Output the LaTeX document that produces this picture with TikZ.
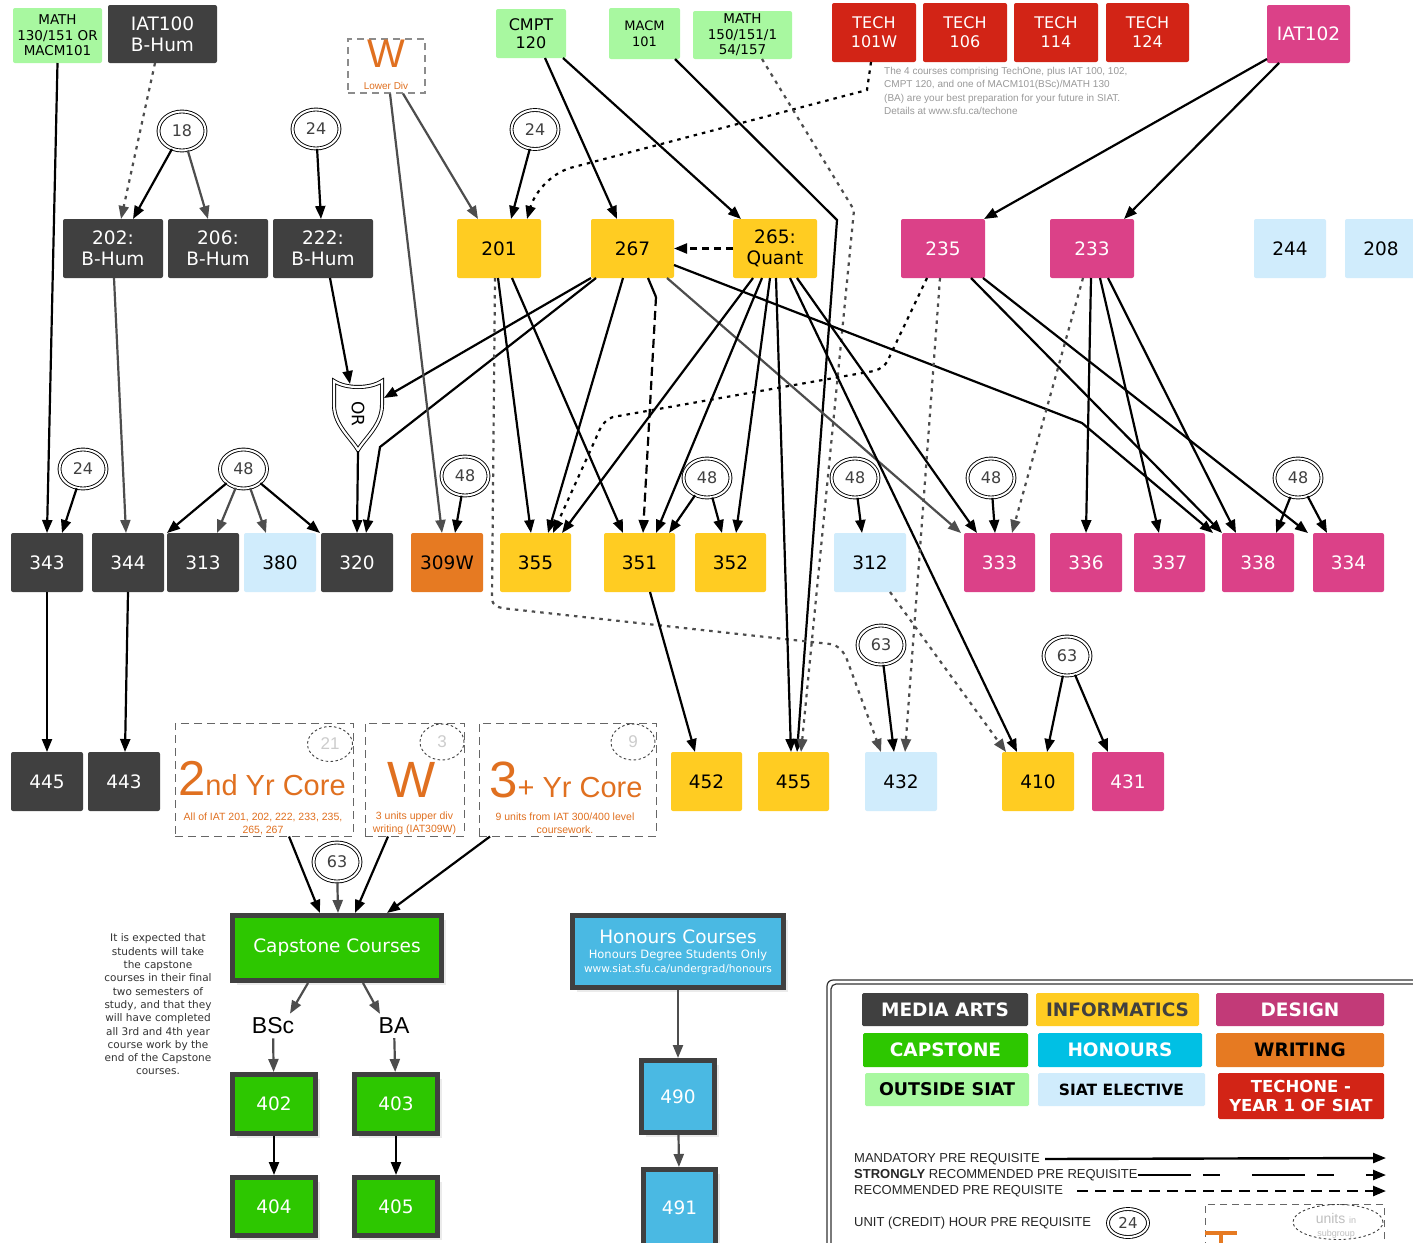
\documentclass[tikz,border=0pt]{standalone}
\usepackage{fontspec}
\setmainfont{DejaVu Sans}
\newfontfamily\arialf{Liberation Sans}
\usetikzlibrary{arrows.meta,shapes.geometric,shadows}
\definecolor{cma}{HTML}{404040}
\definecolor{cinf}{HTML}{FFCC22}
\definecolor{cdes}{HTML}{DB4188}
\definecolor{cdesl}{HTML}{C23A78}
\definecolor{clb}{HTML}{D0ECFC}
\definecolor{cor}{HTML}{E67A22}
\definecolor{corg}{HTML}{E07020}
\definecolor{cred}{HTML}{D22416}
\definecolor{cgrn}{HTML}{A8F8A0}
\definecolor{ccap}{HTML}{2DC700}
\definecolor{chon}{HTML}{4AB9E3}
\definecolor{chonl}{HTML}{00C0E4}
\definecolor{cln}{HTML}{4D4D4D}
\newcommand\fL{\fontsize{18.5}{21}\selectfont}
\tikzset{
 bx/.style={rectangle, rounded corners=2pt, inner sep=0pt, outer sep=0pt, align=center, font=\fL},
 ma/.style={bx, fill=cma, text=white},
 inf/.style={bx, fill=cinf, text=black},
 des/.style={bx, fill=cdes, text=white},
 lb/.style={bx, fill=clb, text=black},
 wri/.style={bx, fill=cor, text=black},
 te/.style={bx, fill=cred, text=white},
 og/.style={bx, fill=cgrn, text=black},
 sz/.style 2 args={minimum width=#1pt, minimum height=#2pt},
 ov/.style={ellipse, draw=black, line width=0.9pt, double=white, double distance=2pt, fill=white, minimum width=47pt, minimum height=39pt, inner sep=0pt, font=\fontsize{16}{16}\selectfont, text=cma},
 ar/.style={-{Triangle[length=13pt,width=10pt]}, line width=2.2pt, draw=black},
 gar/.style={ar, draw=cln},
 dotg/.style={ar, draw=cln, dash pattern=on 3.5pt off 5pt},
 dotb/.style={ar, draw=black, dash pattern=on 3.5pt off 5pt},
 sdash/.style={ar, dash pattern=on 9pt off 5pt},
 dsh/.style={ar, dash pattern=on 7pt off 5pt},
 thk/.style={rectangle, draw=cma, line width=5pt, inner sep=0pt, outer sep=2.5pt, text=white, align=center, drop shadow={shadow xshift=4pt, shadow yshift=-4pt, fill=black!15}},
 dbox/.style={rectangle, draw=black!60, dash pattern=on 8pt off 5pt, line width=1pt, inner sep=0pt},
 dell/.style={ellipse, draw=black!75, dash pattern=on 2.5pt off 2.5pt, line width=0.9pt, inner sep=0pt, text=black!20, font=\arialf\fontsize{17}{17}\selectfont},
 leg/.style={bx, rounded corners=1.5pt, font=\bfseries\fontsize{18.5}{20}\selectfont},
 ltx/.style={anchor=west, inner sep=0pt, text=black!85, font=\arialf\fontsize{13}{13}\selectfont},
 otx/.style={align=center, inner sep=0pt, text=corg, font=\arialf\fontsize{10.5}{13}\selectfont},
}
\begin{document}
\begin{tikzpicture}[x=1pt,y=-1pt]
\useasboundingbox (0,0) rectangle (1413,1242);
\clip (0,0) rectangle (1413,1242);
\fill[white] (0,0) rectangle (1413,1242);

% ---------- top row ----------
\node[og, sz={89}{55}, font=\fontsize{13.5}{15.5}\selectfont] (nMATH) at (57.5,35.5) {MATH\\130/151 OR\\MACM101};
\node[ma, sz={109}{58}] (nIAT100) at (162.5,34) {IAT100\\B-Hum};
\node[rectangle, draw=black!45, dash pattern=on 7pt off 5pt, line width=1.1pt, sz={77}{54}] (nW) at (386.5,66) {};
\node[inner sep=0pt, text=corg, font=\arialf\fontsize{40}{40}\selectfont] (tW) at (386,54) {W};
\node[inner sep=0pt, text=corg, font=\arialf\fontsize{10}{10}\selectfont] (tLD) at (386,86) {Lower Div};
\node[og, sz={70}{49}, font=\fontsize{16}{18}\selectfont] (nCMPT) at (531,33.5) {CMPT\\120};
\node[og, sz={71}{51}, font=\fontsize{13}{16}\selectfont] (nMACM) at (644.5,33.5) {MACM\\101};
\node[og, sz={99}{48}, font=\fontsize{13.5}{15.5}\selectfont] (nMATH2) at (742.5,35) {MATH\\150/151/1\\54/157};
\node[te, sz={84}{59}, font=\fontsize{16}{19}\selectfont] (nT101) at (874,32.5) {TECH\\101W};
\node[te, sz={84}{59}, font=\fontsize{16}{19}\selectfont] (nT106) at (965,32.5) {TECH\\106};
\node[te, sz={84}{59}, font=\fontsize{16}{19}\selectfont] (nT114) at (1056,32.5) {TECH\\114};
\node[te, sz={83}{59}, font=\fontsize{16}{19}\selectfont] (nT124) at (1147.5,32.5) {TECH\\124};
\node[des, sz={83}{58}] (nIAT102) at (1308.5,34) {IAT102};
\node[anchor=north west, align=left, inner sep=0pt, text=black!40, font=\arialf\fontsize{10}{13.5}\selectfont] (note) at (884,67) {The 4 courses comprising TechOne, plus IAT 100, 102,\\CMPT 120, and one of MACM101(BSc)/MATH 130\\(BA) are your best preparation for your future in SIAT.\\Details at www.sfu.ca/techone};

% ---------- row 2 ----------
\node[ma, sz={100}{59}] (n202) at (113,248.5) {202:\\B-Hum};
\node[ma, sz={100}{59}] (n206) at (218,248.5) {206:\\B-Hum};
\node[ma, sz={100}{59}] (n222) at (323,248.5) {222:\\B-Hum};
\node[inf, sz={84}{59}] (n201) at (499,248.5) {201};
\node[inf, sz={83}{59}] (n267) at (632.5,248.5) {267};
\node[inf, sz={84}{59}] (n265) at (775,248.5) {265:\\Quant};
\node[des, sz={84}{59}] (n235) at (943,248.5) {235};
\node[des, sz={84}{59}] (n233) at (1092,248.5) {233};
\node[lb, sz={72}{59}] (n244) at (1290,248.5) {244};
\node[lb, sz={72}{59}] (n208) at (1381,248.5) {208};

% ---------- OR shield ----------
\draw[line width=0.9pt, double=white, double distance=2.2pt, fill=white] (334,381) .. controls (346,389) and (370,389) .. (382,381) -- (382,405) .. controls (382,425) and (365,438) .. (358,450) .. controls (351,438) and (334,425) .. (334,405) -- cycle;
\node[rotate=-90, inner sep=0pt, font=\fontsize{17}{17}\selectfont] (orlab) at (358,414) {OR};
\coordinate (ortop) at (350,384);
\coordinate (orright) at (384,398);
\coordinate (orbot) at (358,451);

% ---------- row 3 ----------
\node[ma, sz={72}{59}] (n343) at (47,562.5) {343};
\node[ma, sz={72}{59}] (n344) at (128,562.5) {344};
\node[ma, sz={72}{59}] (n313) at (203,562.5) {313};
\node[lb, sz={72}{59}] (n380) at (280,562.5) {380};
\node[ma, sz={72}{59}] (n320) at (357,562.5) {320};
\node[wri, sz={72}{59}] (n309) at (447,562.5) {309W};
\node[inf, sz={71}{59}] (n355) at (535.5,562.5) {355};
\node[inf, sz={71}{59}] (n351) at (639.5,562.5) {351};
\node[inf, sz={71}{59}] (n352) at (730.5,562.5) {352};
\node[lb, sz={72}{59}] (n312) at (870,562.5) {312};
\node[des, sz={71}{59}] (n333) at (999.5,562.5) {333};
\node[des, sz={72}{59}] (n336) at (1086,562.5) {336};
\node[des, sz={71}{59}] (n337) at (1169.5,562.5) {337};
\node[des, sz={72}{59}] (n338) at (1258,562.5) {338};
\node[des, sz={71}{59}] (n334) at (1348.5,562.5) {334};

% ---------- row 4 ----------
\node[ma, sz={72}{59}] (n445) at (47,781.5) {445};
\node[ma, sz={72}{59}] (n443) at (124,781.5) {443};
\node[inf, sz={71}{59}] (n452) at (706.5,781.5) {452};
\node[inf, sz={71}{59}] (n455) at (793.5,781.5) {455};
\node[lb, sz={72}{59}] (n432) at (901,781.5) {432};
\node[inf, sz={72}{59}] (n410) at (1038,781.5) {410};
\node[des, sz={72}{59}] (n431) at (1128,781.5) {431};

% ---------- ovals ----------
\node[ov] (o18) at (182,131) {18};
\node[ov] (o24a) at (316,129) {24};
\node[ov] (o24b) at (535,129.5) {24};
\node[ov] (o24c) at (83,469) {24};
\node[ov] (o48a) at (243.5,469) {48};
\node[ov] (o48b) at (465,476) {48};
\node[ov] (o48c) at (707,478) {48};
\node[ov] (o48d) at (855,478) {48};
\node[ov] (o48e) at (991,478) {48};
\node[ov] (o48f) at (1298,478) {48};
\node[ov] (o63a) at (881,645) {63};
\node[ov] (o63b) at (1067,656) {63};
\node[ov] (o63c) at (337,862) {63};

% ---------- core boxes ----------
\node[dbox, sz={178}{113}] (d2) at (264,779.5) {};
\node[anchor=base west, inner sep=0pt, text=corg, font=\arialf] (t2) at (178,795) {\fontsize{49}{49}\selectfont 2\fontsize{29}{29}\selectfont nd Yr Core};
\node[otx] (t2s) at (263,823.5) {All of IAT 201, 202, 222, 233, 235,\\265, 267};
\node[dell, sz={45}{35}] (e21) at (330,744) {21};
\node[dbox, sz={99}{113}] (dW) at (414.5,779.5) {};
\node[anchor=base, inner sep=0pt, text=corg, font=\arialf\fontsize{51}{51}\selectfont] (tWW) at (412,797) {W};
\node[otx] (tWs) at (414.5,823.5) {3 units upper div\\writing (IAT309W)};
\node[dell, sz={44}{36}] (e3) at (442,742) {3};
\node[dbox, sz={177}{113}] (d3) at (567.5,779.5) {};
\node[anchor=base west, inner sep=0pt, text=corg, font=\arialf] (t3) at (489,797) {\fontsize{51}{51}\selectfont 3\fontsize{29}{29}\selectfont + Yr Core};
\node[otx] (t3s) at (565,823.5) {9 units from IAT 300/400 level\\coursework.};
\node[dell, sz={44}{36}] (e9) at (633,742) {9};

% ---------- capstone / honours ----------
\node[thk, fill=ccap, sz={209}{65}, font=\fontsize{18.5}{20}\selectfont] (ncap) at (337,948) {Capstone Courses};
\node[thk, fill=chon, sz={211}{72}] (nHon) at (678,951.5) {};
\node[inner sep=0pt, text=white, font=\fontsize{18.5}{20}\selectfont] (th1) at (678,937) {Honours Courses};
\node[inner sep=0pt, text=white, font=\fontsize{11.5}{13}\selectfont] (th2) at (678,955) {Honours Degree Students Only};
\node[inner sep=0pt, text=white, font=\fontsize{10.6}{12}\selectfont] (th3) at (678,969.5) {www.siat.sfu.ca/undergrad/honours};
\node[align=center, inner sep=0pt, text=black!80, font=\fontsize{10.5}{13.3}\selectfont] (ltxt) at (158,1004.5) {It is expected that\\students will take\\the capstone\\courses in their final\\two semesters of\\study, and that they\\will have completed\\all 3rd and 4th year\\course work by the\\end of the Capstone\\courses.};
\node[inner sep=4pt, font=\arialf\fontsize{23}{23}\selectfont] (nBSc) at (273,1026) {BSc};
\node[inner sep=4pt, font=\arialf\fontsize{23}{23}\selectfont] (nBA) at (394,1026) {BA};
\node[thk, fill=ccap, sz={83}{59}, font=\fL] (n402) at (274,1104) {402};
\node[thk, fill=ccap, sz={83}{59}, font=\fL] (n403) at (396,1104) {403};
\node[thk, fill=ccap, sz={83}{58}, font=\fL] (n404) at (274,1206.5) {404};
\node[thk, fill=ccap, sz={83}{58}, font=\fL] (n405) at (396,1206.5) {405};
\node[thk, fill=chon, sz={73}{72}, font=\fL] (n490) at (678,1096.5) {490};
\node[thk, fill=chon, sz={72}{77}, font=\fL] (n491) at (679.5,1208) {491};

% ---------- edges ----------
\draw[ar] (nMATH.south) -- (47,0 |- n343.north);
\draw[dotg] (155,0 |- nIAT100.south) -- (121,0 |- n202.north);
\draw[ar] (o18) -- (133,0 |- n202.north);
\draw[gar] (o18) -- (208,0 |- n206.north);
\draw[ar] (o24a) -- (321,0 |- n222.north);
\draw[gar] (114,0 |- n202.south) -- (126,0 |- n344.north);
\draw[ar] (330,0 |- n222.south) -- (ortop);
\draw[ar] (n267.south west) -- (orright);
\draw[ar] (596,0 |- n267.south) -- (380,447) -- (366,0 |- n320.north);
\draw[ar] (orbot) -- (357,0 |- n320.north);
\draw[gar] (390,0 |- nW.south) -- (442,0 |- n309.north);
\draw[gar] (403,0 |- nW.south) -- (478,0 |- n201.north);
\draw[ar] (o24b) -- (511,0 |- n201.north);
\draw[dotb] (871,0 |- nT101.south) -- (867,90) -- (570,168) .. controls (548,175) and (534,195) .. (527,0 |- n201.north);
\draw[ar] (545,0 |- nCMPT.south) -- (617,0 |- n267.north);
\draw[ar] (563,0 |- nCMPT.south) -- (741,0 |- n265.north);
\draw[ar] (675,0 |- nMACM.south) -- (837,220) -- (797,0 |- n455.north);
\draw[dotg] (762,0 |- nMATH2.south) -- (854,210) -- (801,0 |- n455.north);
\draw[dsh] (n265.west) -- (n267.east);
\draw[ar] (nIAT102.west |- 0,59) -- (984,0 |- n235.north);
\draw[ar] (1279,0 |- nIAT102.south) -- (1124,0 |- n233.north);
% from 201
\draw[ar] (498,0 |- n201.south) -- (531,0 |- n355.north);
\draw[ar] (512,0 |- n201.south) -- (623,0 |- n351.north);
\draw[dotg] (495,0 |- n201.south) -- (492,598) .. controls (492,606) and (498,608) .. (510,609) -- (830,644) .. controls (838,645) and (842,650) .. (846,657) -- (881,0 |- n432.north);
% from 267
\draw[ar] (623,0 |- n267.south) -- (548,0 |- n355.north);
\draw[line width=2.2pt] (648,0 |- n267.south) -- (656,297);
\draw[sdash] (656,297) -- (643,0 |- n351.north);
\draw[gar] (667,0 |- n267.south) -- (961,0 |- n333.north);
\draw[ar] (n267.east |- 0,265) -- (1082,423) -- (1213,0 |- n338.north);
% from 265
\draw[ar] (753,0 |- n265.south) -- (562,0 |- n355.north);
\draw[ar] (762,0 |- n265.south) -- (656,0 |- n351.north);
\draw[ar] (770,0 |- n265.south) -- (736,0 |- n352.north);
\draw[ar] (776,0 |- n265.south) -- (791,0 |- n455.north);
\draw[ar] (790,0 |- n265.south) -- (1017,0 |- n410.north);
\draw[ar] (797,0 |- n265.south) -- (977,0 |- n333.north);
% from 235
\draw[dotb] (927,0 |- n235.south) -- (887,362) .. controls (882,369) and (876,371) .. (868,372) -- (613,417) .. controls (604,420) and (600,428) .. (596,438) -- (553,0 |- n355.north);
\draw[dotg] (940,0 |- n235.south) -- (905,0 |- n432.north);
\draw[ar] (971,0 |- n235.south) -- (1222,0 |- n338.north);
\draw[ar] (983,0 |- n235.south) -- (1308,0 |- n334.north);
% from 233
\draw[dotg] (1083,0 |- n233.south) -- (1012,0 |- n333.north);
\draw[ar] (1091,0 |- n233.south) -- (1086,0 |- n336.north);
\draw[ar] (1100,0 |- n233.south) -- (1159,0 |- n337.north);
\draw[ar] (1108,0 |- n233.south) -- (1236,0 |- n338.north);
% ovals
\draw[ar] (o24c) -- (62,0 |- n343.north);
\draw[ar] (o48a) -- (167,0 |- n313.north);
\draw[gar] (o48a) -- (217,0 |- n313.north);
\draw[gar] (o48a) -- (266,0 |- n380.north);
\draw[ar] (o48a) -- (320,0 |- n320.north);
\draw[ar] (o48b) -- (455,0 |- n309.north);
\draw[ar] (o48c) -- (669,0 |- n351.north);
\draw[ar] (o48c) -- (722,0 |- n352.north);
\draw[ar] (o48d) -- (862,0 |- n312.north);
\draw[ar] (o48e) -- (995,0 |- n333.north);
\draw[ar] (o48f) -- (1276,0 |- n338.north);
\draw[ar] (o48f) -- (1327,0 |- n334.north);
\draw[dotg] (890,0 |- n312.south) -- (1006,0 |- n410.north);
\draw[ar] (o63a) -- (894,0 |- n432.north);
\draw[ar] (o63b) -- (1047,0 |- n410.north);
\draw[ar] (o63b) -- (1108,0 |- n431.north);
\draw[ar] (650,0 |- n351.south) -- (695,0 |- n452.north);
\draw[ar] (n343) -- (n445);
\draw[ar] (128,0 |- n344.south) -- (125,0 |- n443.north);
% capstone
\draw[ar] (289,0 |- d2.south) -- (320,0 |- ncap.north);
\draw[gar] (o63c) -- (338,0 |- ncap.north);
\draw[ar] (388,0 |- dW.south) -- (355,0 |- ncap.north);
\draw[ar] (490,0 |- d3.south) -- (387,0 |- ncap.north);
\draw[gar] (308,0 |- ncap.south) -- (290,0 |- nBSc.north);
\draw[gar] (363,0 |- ncap.south) -- (380,0 |- nBA.north);
\draw[gar] (nBSc) -- (n402);
\draw[gar] (nBA) -- (n403);
\draw[ar] (n402) -- (n404);
\draw[ar] (n403) -- (n405);
\draw[gar] (nHon) -- (n490);
\draw[gar] (n490) -- (n491);

% ---------- legend ----------
\draw[rounded corners=6pt, line width=1.2pt, draw=black!80] (827,980) rectangle (1440,1270);
\draw[rounded corners=5pt, line width=1.2pt, draw=black!80] (831,984) rectangle (1436,1266);
\node[leg, fill=cma, text=white, sz={166}{33}] (lMA) at (945,1009.5) {MEDIA ARTS};
\node[leg, fill=cinf, text=cma, sz={163}{33}] (lINF) at (1117.5,1009.5) {INFORMATICS};
\node[leg, fill=cdesl, text=white, sz={168}{33}] (lDES) at (1300,1009.5) {DESIGN};
\node[leg, fill=ccap, text=white, sz={165}{34}] (lCAP) at (945.5,1050) {CAPSTONE};
\node[leg, fill=chonl, text=white, sz={164}{34}] (lHON) at (1120,1050) {HONOURS};
\node[leg, fill=cor, text=black, sz={168}{34}] (lWRI) at (1300,1050) {WRITING};
\node[leg, fill=cgrn, text=black, sz={164}{33}, font=\bfseries\fontsize{17.5}{20}\selectfont] (lOUT) at (947,1089.5) {OUTSIDE SIAT};
\node[leg, fill=clb, text=black, sz={167}{33}, font=\bfseries\fontsize{15.5}{18}\selectfont] (lELE) at (1121.5,1089.5) {SIAT ELECTIVE};
\node[leg, fill=cred, text=white, sz={166}{46}, font=\bfseries\fontsize{16.5}{19}\selectfont] (lTEC) at (1301,1096) {TECHONE -\\YEAR 1 OF SIAT};

\node[ltx] (lm) at (854,1159) {MANDATORY PRE REQUISITE};
\coordinate (lmE) at (1386,1158);
\draw[ar, line width=2.4pt] ([xshift=5pt]lm.east) -- (lmE);
\node[ltx] (ls) at (854,1175) {\textbf{STRONGLY} RECOMMENDED PRE REQUISITE};
\coordinate (lsE) at (1386,1175);
\draw[ar, line width=2.4pt, dash pattern=on 53pt off 12pt on 17pt off 32pt] (ls.east) -- (lsE);
\node[ltx] (lr) at (854,1191) {RECOMMENDED PRE REQUISITE};
\coordinate (lrE) at (1386,1191);
\draw[ar, line width=2.4pt, dash pattern=on 11pt off 7pt] ([xshift=14pt]lr.east) -- (lrE);
\node[ltx] (lu) at (854,1223) {UNIT (CREDIT) HOUR PRE REQUISITE};
\node[ov, sz={40}{28}, font=\fontsize{15}{15}\selectfont] (olg) at (1128,1223) {24};
\node[rectangle, draw=black!60, dash pattern=on 7pt off 5pt, line width=0.9pt, sz={179}{60}] (lbox) at (1294.5,1234) {};
\draw[line width=4pt, draw=cor] (1205,1233) -- (1237,1233);
\draw[line width=4pt, draw=cor] (1221,1233) -- (1221,1250);
\node[dell, sz={90}{35}] (eu) at (1338,1222) {};
\node[inner sep=0pt, text=black!25, font=\arialf\fontsize{14}{14}\selectfont] (tun) at (1336,1218) {units {\fontsize{9}{9}\selectfont in}};
\node[inner sep=0pt, text=black!25, font=\arialf\fontsize{9}{9}\selectfont] (tsg) at (1336,1234) {subgroup};
\end{tikzpicture}
\end{document}
